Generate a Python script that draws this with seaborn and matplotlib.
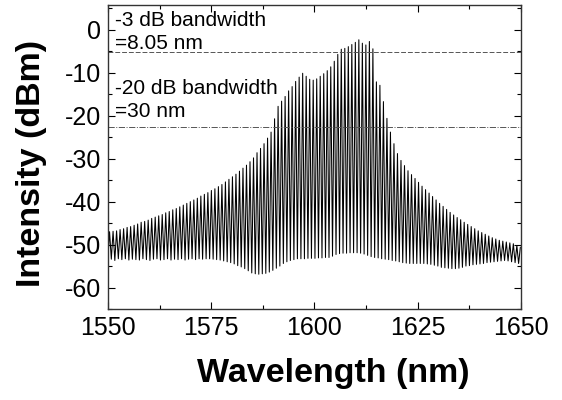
import numpy as np
import pandas as pd
import matplotlib
matplotlib.use("Agg")
import matplotlib.pyplot as plt
import seaborn as sns
from matplotlib.ticker import MultipleLocator

# comb line centres (nm)
COMB_WL = [
    1550.40, 1551.25, 1552.10, 1552.95, 1553.80, 1554.65, 1555.50, 1556.35, 1557.20, 1558.05,
    1558.90, 1559.75, 1560.60, 1561.45, 1562.30, 1563.15, 1564.00, 1564.85, 1565.70, 1566.55,
    1567.40, 1568.25, 1569.10, 1569.95, 1570.80, 1571.65, 1572.50, 1573.35, 1574.20, 1575.05,
    1575.90, 1576.75, 1577.60, 1578.45, 1579.30, 1580.15, 1581.00, 1581.85, 1582.70, 1583.55,
    1584.40, 1585.25, 1586.10, 1586.95, 1587.80, 1588.65, 1589.50, 1590.35, 1591.20, 1592.05,
    1592.90, 1593.75, 1594.60, 1595.45, 1596.30, 1597.15, 1598.00, 1598.85, 1599.70, 1600.55,
    1601.40, 1602.25, 1603.10, 1603.95, 1604.80, 1605.65, 1606.50, 1607.35, 1608.20, 1609.05,
    1609.90, 1610.75, 1611.60, 1612.45, 1613.30, 1614.15, 1615.00, 1615.85, 1616.70, 1617.55,
    1618.40, 1619.25, 1620.10, 1620.95, 1621.80, 1622.65, 1623.50, 1624.35, 1625.20, 1626.05,
    1626.90, 1627.75, 1628.60, 1629.45, 1630.30, 1631.15, 1632.00, 1632.85, 1633.70, 1634.55,
    1635.40, 1636.25, 1637.10, 1637.95, 1638.80, 1639.65, 1640.50, 1641.35, 1642.20, 1643.05,
    1643.90, 1644.75, 1645.60, 1646.45, 1647.30, 1648.15, 1649.00, 1649.85,
]

# peak level of every comb line (dBm)
PEAK_DBM = [
    -47.0, -46.9, -46.8, -46.5, -46.3, -46.0, -45.8, -45.5, -45.2, -44.8,
    -44.6, -44.3, -43.9, -43.6, -43.3, -43.0, -42.6, -42.3, -41.9, -41.6,
    -41.2, -40.8, -40.4, -40.0, -39.6, -39.2, -38.7, -38.3, -37.9, -37.4,
    -37.0, -36.5, -36.0, -35.4, -34.8, -34.2, -33.6, -32.9, -32.2, -31.5,
    -30.7, -29.8, -28.6, -27.6, -26.5, -25.2, -23.8, -20.7, -17.8, -16.6,
    -15.5, -14.2, -13.2, -12.0, -11.0, -10.1, -10.8, -11.5, -11.7, -11.4,
    -10.8, -10.2, -9.5, -8.6, -7.3, -5.7, -4.5, -4.3, -3.9, -3.4,
    -2.9, -2.3, -3.1, -3.5, -2.7, -4.4, -12.1, -12.9, -16.7, -20.6,
    -23.8, -26.5, -28.8, -30.4, -31.6, -32.8, -33.7, -34.6, -35.5, -36.4,
    -37.2, -38.0, -38.8, -39.6, -40.4, -41.1, -41.8, -42.5, -43.1, -43.7,
    -44.2, -44.8, -45.3, -45.8, -46.3, -46.8, -47.2, -47.6, -48.0, -48.4,
    -48.7, -49.0, -49.2, -49.4, -49.6, -49.8, -50.2, -50.6,
]

# floor level just before every comb line (dBm)
DIP_DBM = [
    -53.6, -53.4, -53.7, -53.3, -53.5, -53.3, -53.6, -53.4, -53.5, -53.6,
    -53.3, -53.5, -53.7, -53.4, -53.3, -53.6, -53.5, -53.3, -53.6, -53.4,
    -53.5, -53.3, -53.6, -53.4, -53.3, -53.5, -53.3, -53.4, -53.3, -53.3,
    -53.4, -53.5, -53.6, -53.8, -54.0, -54.2, -54.5, -54.9, -55.2, -55.6,
    -56.1, -56.6, -56.8, -56.9, -56.8, -56.7, -56.4, -56.0, -55.5, -55.0,
    -54.4, -54.0, -53.7, -53.5, -53.3, -53.3, -53.3, -53.2, -53.2, -53.2,
    -53.1, -53.1, -53.0, -53.0, -52.7, -52.3, -52.1, -52.0, -52.0, -51.9,
    -51.9, -51.9, -52.0, -52.2, -52.5, -52.8, -53.0, -53.1, -53.3, -53.4,
    -53.5, -53.7, -53.8, -54.0, -54.2, -54.3, -54.4, -54.4, -54.4, -54.4,
    -54.4, -54.5, -54.6, -54.8, -55.0, -55.3, -55.4, -55.5, -55.6, -55.6,
    -55.5, -55.3, -55.0, -54.9, -54.7, -54.6, -54.5, -54.4, -54.2, -54.1,
    -54.0, -53.9, -53.8, -53.7, -53.8, -54.0, -54.2, -54.4,
]

LINE_3DB = -5.2
LINE_20DB = -22.7
NOTE_3DB = "-3 dB bandwidth\n=8.05 nm"
NOTE_20DB = "-20 dB bandwidth\n=30 nm"
X_TICKS = [1550, 1575, 1600, 1625, 1650]
Y_TICKS = [0, -10, -20, -30, -40, -50, -60]


def build_trace():
    """Interleave floor and peak points into one spectrum trace."""
    wl = np.array(COMB_WL)
    half = np.diff(wl).mean() / 2
    xs, ys = [], []
    for w, dip, peak in zip(wl, DIP_DBM, PEAK_DBM):
        xs += [w - half, w]
        ys += [dip, peak]
    return pd.DataFrame({"wavelength": xs, "intensity": ys})


sns.set_theme(style="ticks")
plt.rcParams["font.family"] = ["Liberation Sans", "DejaVu Sans"]
plt.rcParams["axes.unicode_minus"] = False
plt.rcParams["text.color"] = "black"
plt.rcParams["axes.labelcolor"] = "black"

df = build_trace()

fig = plt.figure(figsize=(5.62, 4.0), dpi=100)
ax = fig.add_axes([0.192, 0.2275, 0.735, 0.76])

sns.lineplot(data=df, x="wavelength", y="intensity", ax=ax, color="black",
             linewidth=0.75, estimator=None, sort=False)

ax.axhline(LINE_3DB, color="#555555", lw=0.7, ls=(0, (5, 2)))
ax.axhline(LINE_20DB, color="#555555", lw=0.7, ls="-.")

ax.text(1551.6, 4.3, NOTE_3DB, fontsize=15, va="top", ha="left", linespacing=1.25)
ax.text(1551.6, -11.5, NOTE_20DB, fontsize=15, va="top", ha="left", linespacing=1.25)

ax.set_xlim(1550, 1650)
ax.set_ylim(-65, 5.8)
ax.set_xticks(X_TICKS)
ax.set_yticks(Y_TICKS)
ax.xaxis.set_minor_locator(MultipleLocator(12.5))
ax.yaxis.set_minor_locator(MultipleLocator(5))
ax.tick_params(which="both", direction="in", top=True, right=True, labelsize=18, colors="black")
ax.tick_params(which="major", length=5, width=0.8, pad=5)
ax.tick_params(which="minor", length=3, width=0.8)

ax.set_xlabel("Wavelength (nm)", fontsize=24.5, fontweight="bold")
ax.set_ylabel("Intensity (dBm)", fontsize=24.5, fontweight="bold")
ax.xaxis.set_label_coords(0.545, -0.161)
ax.yaxis.set_label_coords(-0.148, 0.48)

for sp in ax.spines.values():
    sp.set_linewidth(1.0)
    sp.set_color("#333333")

fig.savefig("out.png", dpi=100)
plt.close(fig)
